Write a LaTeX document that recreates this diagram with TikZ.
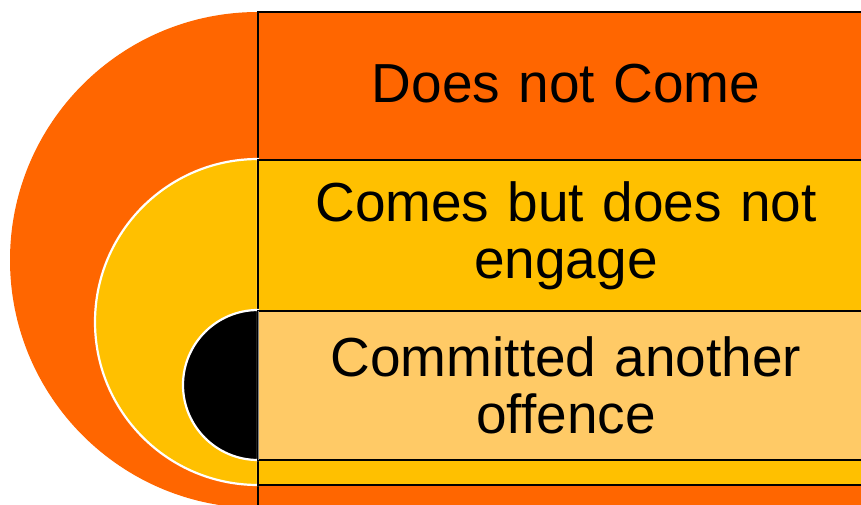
\documentclass[tikz,border=0pt]{standalone}
\usepackage{fontspec}
\setmainfont{Liberation Sans}
\usepackage{tikz}
\usetikzlibrary{arrows, calc, positioning}
\definecolor{tierone}{RGB}{255,102,0}
\definecolor{tiertwo}{RGB}{255,192,0}
\definecolor{tierthree}{RGB}{255,202,102}
\tikzset{
	band/.style={draw=black, line width=1.8pt},
	halo/.style={draw=white, line width=2.2pt},
	bandtext/.style={align=center, text width=580pt, font=\fontsize{55}{57}\selectfont}
}

\begin{document}
\begin{tikzpicture}[x=1pt, y=-1pt]
	    \useasboundingbox (0,0) rectangle (861,505);
	    \draw[fill=tierone, draw=none] (258,260) ++(0,-248) arc[start angle=-90, end angle=-270, radius=248] -- cycle ;
	    \draw[band, fill=tierone] (258,12) rectangle (880,530) ;
	    \draw[halo, fill=tiertwo] (258,322) ++(0,-163) arc[start angle=-90, end angle=-270, radius=163] -- cycle ;
	    \draw[band, fill=tiertwo] (258,160) rectangle (880,485) ;
	    \draw[halo, fill=black] (258,385) ++(0,-75) arc[start angle=-90, end angle=-270, radius=75] -- cycle ;
	    \draw[band, fill=tierthree] (258,311) rectangle (880,460) ;
	    \draw[gray, line width=0.8pt] (258,311) -- (258,460) ;
	    \node[bandtext] (nocome) at (566,84) {Does not Come};
	    \node[bandtext] (noengage) at (566,236) {Comes but does not\\engage};
	    \node[bandtext] (offence) at (566,385) {Committed another\\offence};
	\end{tikzpicture}
\end{document}
